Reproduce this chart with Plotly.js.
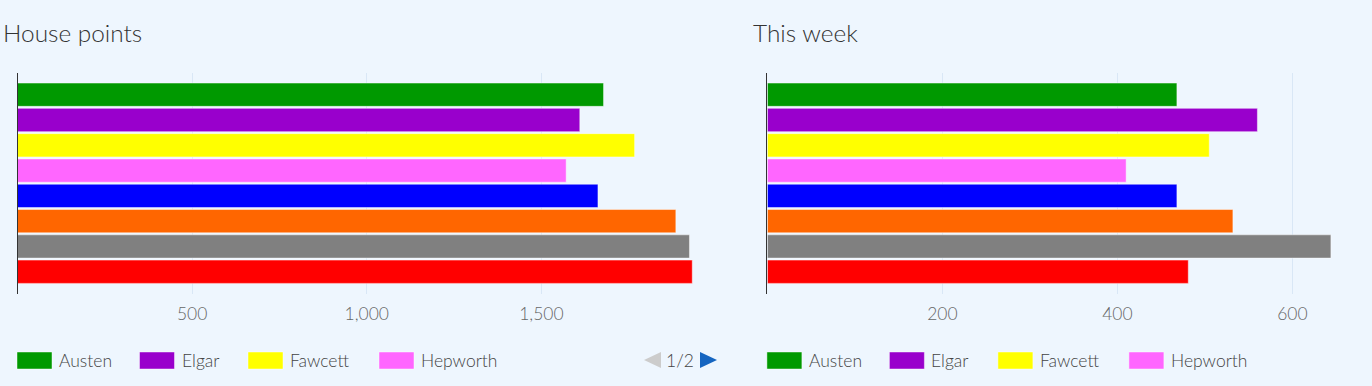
<!DOCTYPE html>
<html>
<head>
<meta charset="utf-8">
<script src="https://cdn.plot.ly/plotly-3.0.1.min.js"></script>
<style>
  html, body { margin: 0; padding: 0; background: #eef6fe; }
  #chart { width: 1372px; height: 386px; }
</style>
</head>
<body>
<div id="chart"></div>
<script>
// ---- data ----
const houses = ["Austen", "Elgar", "Fawcett", "Hepworth", "Lovelace", "Newton", "Seacole", "Turing"];
const houseColors = ["#009900", "#9900cc", "#ffff00", "#ff66ff", "#0000ff", "#ff6600", "#808080", "#ff0000"];
const totalPoints = [1678, 1610, 1767, 1571, 1662, 1885, 1924, 1932];
const weekPoints = [468, 560, 505, 410, 468, 532, 644, 481];
const chartTitles = ["House points", "This week"];
const totalTicks = [0, 500, 1000, 1500, 2000];
const totalTickText = ["", "500", "1,000", "1,500", ""];
const weekTicks = [0, 200, 400, 600];
const weekTickText = ["", "200", "400", "600"];
const legendVisibleCount = 4;
const pageLabel = "1/2";

// ---- layout helpers ----
const W = 1372, H = 386;
const px = x => x / W;
const py = y => 1 - y / H;
const FONT = "'Lato Light', Lato, 'Open Sans', sans-serif";
const BG = "#eef6fe";
const GRID = "#d9e7f6";

const plotTop = 72.7, plotBottom = 294;
const left = { x0: 17.5, x1: 716 };
const right = { x0: 767.4, x1: 1366 };

const traces = [];
function addSeries(values, xa, ya) {
  values.forEach((v, i) => {
    traces.push({
      type: "bar",
      orientation: "h",
      name: houses[i],
      x: [v],
      y: [houses[i]],
      xaxis: xa,
      yaxis: ya,
      width: 0.92,
      marker: { color: houseColors[i], line: { color: "rgba(255,255,255,0.45)", width: 1 } },
      showlegend: false,
      hoverinfo: "x+name"
    });
  });
}
addSeries(totalPoints, "x", "y");
addSeries(weekPoints, "x2", "y2");

const tickFont = { family: FONT, size: 17.5, color: "#666666", weight: 300 };
const yRange = [7.88, -0.87];

const shapes = [];
const annotations = [];

// titles
[[chartTitles[0], 1], [chartTitles[1], 750.5]].forEach(([t, x]) => {
  annotations.push({
    text: t, xref: "paper", yref: "paper", x: px(x), y: py(32.5),
    xanchor: "left", yanchor: "middle", showarrow: false,
    font: { family: FONT, size: 24.4, color: "#333333", weight: 300 }
  });
});

// custom legends
const legendOffsets = [0, 122.5, 231, 362];
const legendY0 = 352, legendY1 = 369;
[left.x0 - 0.5, right.x0 - 0.5].forEach(baseX => {
  for (let i = 0; i < legendVisibleCount; i++) {
    const x0 = baseX + legendOffsets[i];
    shapes.push({
      type: "rect", xref: "paper", yref: "paper",
      x0: px(x0), x1: px(x0 + 35), y0: py(legendY1), y1: py(legendY0),
      fillcolor: houseColors[i], line: { color: "rgba(255,255,255,0.45)", width: 1 }
    });
    annotations.push({
      text: houses[i], xref: "paper", yref: "paper",
      x: px(x0 + 40), y: py(360), xanchor: "left", yanchor: "middle",
      showarrow: false,
      font: { family: FONT, size: 17.5, color: "#444444", weight: 300 }
    });
  }
});

// pagination
function tri(pts, color) {
  const d = "M" + pts.map(p => px(p[0]) + "," + py(p[1])).join(" L") + " Z";
  shapes.push({ type: "path", xref: "paper", yref: "paper", path: d, fillcolor: color, line: { width: 0 } });
}
tri([[661, 352], [661, 368], [644, 360]], "#cccccc");
tri([[700, 352], [700, 368], [717, 360]], "#1565c0");
annotations.push({
  text: pageLabel, xref: "paper", yref: "paper", x: px(680), y: py(360),
  xanchor: "center", yanchor: "middle", showarrow: false,
  font: { family: FONT, size: 17.5, color: "#444444", weight: 300 }
});

function xAxis(dom, range, vals, texts, anchor) {
  return {
    domain: [px(dom.x0), px(dom.x1)], range: range, autorange: false,
    tickvals: vals, ticktext: texts, tickfont: tickFont,
    showgrid: true, gridcolor: GRID, gridwidth: 1,
    zeroline: false, showline: false, ticks: "", ticklabelstandoff: 7,
    anchor: anchor, fixedrange: true, automargin: false
  };
}
function yAxis(anchor) {
  return {
    domain: [py(plotBottom), py(plotTop)],
    type: "category", categoryarray: houses, range: yRange, autorange: false,
    showticklabels: false, showgrid: false, zeroline: false,
    showline: true, linecolor: "#333333", linewidth: 1, ticks: "",
    anchor: anchor, fixedrange: true, automargin: false
  };
}

const layout = {
  width: W, height: H,
  margin: { l: 0, r: 0, t: 0, b: 0, pad: 0 },
  paper_bgcolor: BG, plot_bgcolor: BG,
  barmode: "overlay",
  showlegend: false,
  font: { family: FONT, color: "#666666" },
  xaxis: xAxis(left, [0, 2000], totalTicks, totalTickText, "y"),
  yaxis: yAxis("x"),
  xaxis2: xAxis(right, [0, (right.x1 - right.x0) / 0.875], weekTicks, weekTickText, "y2"),
  yaxis2: yAxis("x2"),
  shapes: shapes,
  annotations: annotations
};

Plotly.newPlot("chart", traces, layout, { displayModeBar: false, staticPlot: false });
</script>
</body>
</html>
